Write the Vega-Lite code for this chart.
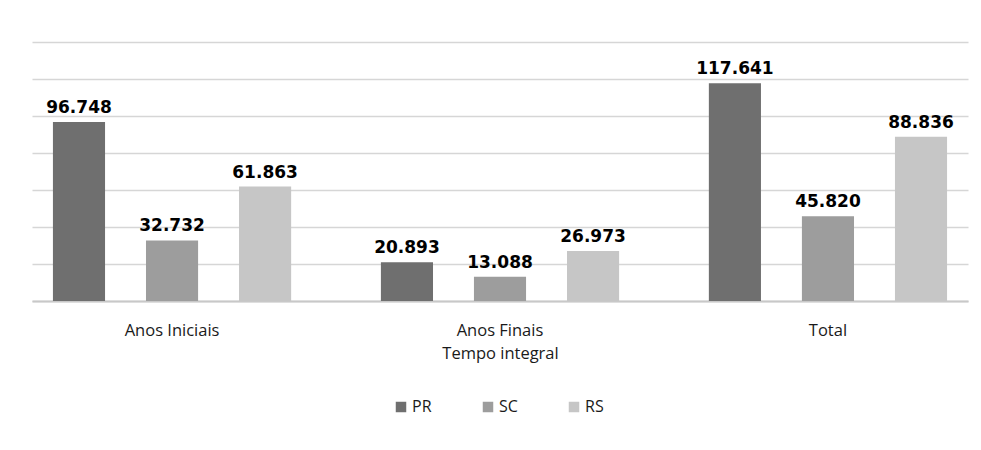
{
  "$schema": "https://vega.github.io/schema/vega-lite/v6.json",
  "width": 936,
  "height": 259,
  "autosize": {"type": "none"},
  "padding": {"left": 32, "top": 42, "right": 13, "bottom": 149},
  "background": "white",
  "config": {
    "locale": {"number": {"decimal": ",", "thousands": ".", "grouping": [3], "currency": ["R$", ""]}},
    "view": {"stroke": null},
    "font": "Open Sans"
  },
  "data": {
    "values": [
      {"categoria": "Anos Iniciais", "estado": "PR", "valor": 96748},
      {"categoria": "Anos Iniciais", "estado": "SC", "valor": 32732},
      {"categoria": "Anos Iniciais", "estado": "RS", "valor": 61863},
      {"categoria": "Anos Finais", "estado": "PR", "valor": 20893},
      {"categoria": "Anos Finais", "estado": "SC", "valor": 13088},
      {"categoria": "Anos Finais", "estado": "RS", "valor": 26973},
      {"categoria": "Total", "estado": "PR", "valor": 117641},
      {"categoria": "Total", "estado": "SC", "valor": 45820},
      {"categoria": "Total", "estado": "RS", "valor": 88836}
    ]
  },
  "encoding": {
    "x": {
      "field": "categoria",
      "type": "nominal",
      "sort": ["Anos Iniciais", "Anos Finais", "Total"],
      "scale": {"paddingInner": 0.268, "paddingOuter": 0.061},
      "axis": {
        "title": "Tempo integral",
        "titleFont": "Open Sans",
        "titleFontSize": 16.5,
        "titleFontWeight": "normal",
        "titleColor": "#1a1a1a",
        "titlePadding": 7,
        "labelFont": "Open Sans",
        "labelFontSize": 16.5,
        "labelColor": "#1a1a1a",
        "labelAngle": 0,
        "labelPadding": 21,
        "ticks": false,
        "domainColor": "#c8c8c8",
        "domainWidth": 2
      }
    },
    "xOffset": {
      "field": "estado",
      "type": "nominal",
      "sort": ["PR", "SC", "RS"],
      "scale": {"paddingInner": 0.44, "paddingOuter": 0.01}
    },
    "y": {
      "field": "valor",
      "type": "quantitative",
      "scale": {"domain": [0, 140000], "nice": false},
      "axis": {
        "title": null,
        "labels": false,
        "ticks": false,
        "domain": false,
        "values": [0, 20000, 40000, 60000, 80000, 100000, 120000, 140000],
        "gridColor": "#d6d6d6",
        "gridWidth": 1.5
      }
    }
  },
  "layer": [
    {
      "mark": {"type": "bar"},
      "encoding": {
        "color": {
          "field": "estado",
          "type": "nominal",
          "sort": ["PR", "SC", "RS"],
          "scale": {"domain": ["PR", "SC", "RS"], "range": ["#6f6f6f", "#9d9d9d", "#c6c6c6"]},
          "legend": {
            "title": null,
            "orient": "none",
            "direction": "horizontal",
            "legendX": 361,
            "legendY": 357,
            "symbolType": "square",
            "symbolSize": 110,
            "symbolStrokeWidth": 0,
            "labelFont": "Open Sans",
            "labelFontSize": 16,
            "labelColor": "#1a1a1a",
            "labelOffset": 3,
            "columnPadding": 48
          }
        }
      }
    },
    {
      "mark": {"type": "text", "font": "DejaVu Sans", "fontWeight": "bold", "fontSize": 17, "baseline": "alphabetic", "dy": -9, "color": "#000000"},
      "encoding": {
        "text": {"field": "valor", "type": "quantitative", "format": ",d"}
      }
    }
  ]
}
